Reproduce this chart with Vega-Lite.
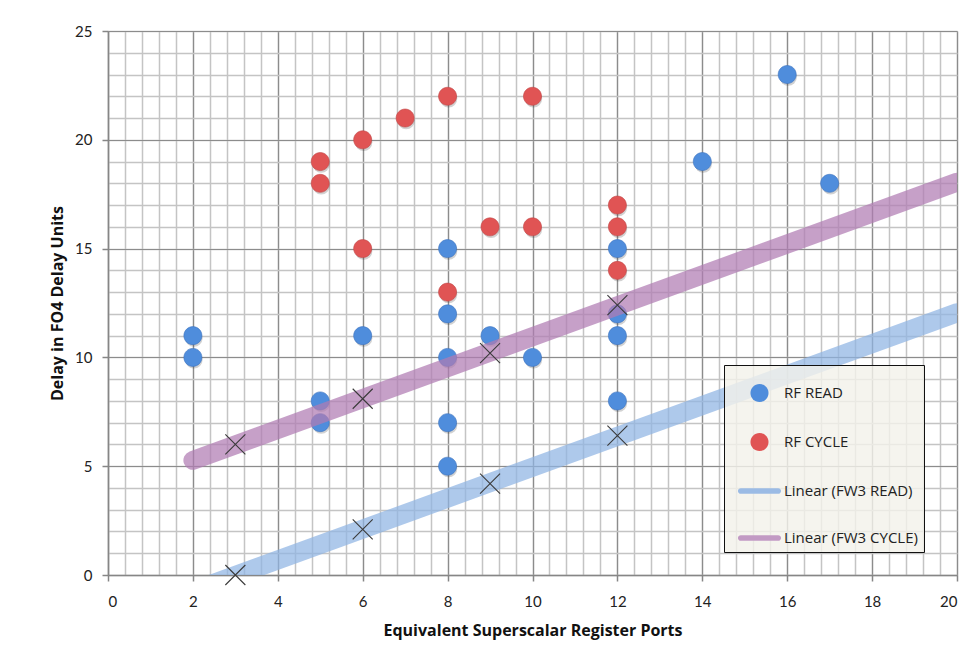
{
  "$schema": "https://vega.github.io/schema/vega-lite/v6.json",
  "width": 849,
  "height": 544,
  "autosize": {"type": "none"},
  "padding": {"left": 108, "top": 31, "right": 15, "bottom": 96},
  "background": "white",
  "config": {
    "view": {"stroke": null},
    "font": "Lato",
    "legend": {"labelFont": "Open Sans"}
  },
  "datasets": {
    "rf": [
      {"ports": 2, "delay": 11, "series": "RF READ"},
      {"ports": 2, "delay": 10, "series": "RF READ"},
      {"ports": 5, "delay": 8, "series": "RF READ"},
      {"ports": 5, "delay": 7, "series": "RF READ"},
      {"ports": 6, "delay": 11, "series": "RF READ"},
      {"ports": 8, "delay": 15, "series": "RF READ"},
      {"ports": 8, "delay": 12, "series": "RF READ"},
      {"ports": 8, "delay": 10, "series": "RF READ"},
      {"ports": 8, "delay": 7, "series": "RF READ"},
      {"ports": 8, "delay": 5, "series": "RF READ"},
      {"ports": 9, "delay": 11, "series": "RF READ"},
      {"ports": 10, "delay": 10, "series": "RF READ"},
      {"ports": 12, "delay": 15, "series": "RF READ"},
      {"ports": 12, "delay": 12, "series": "RF READ"},
      {"ports": 12, "delay": 11, "series": "RF READ"},
      {"ports": 12, "delay": 8, "series": "RF READ"},
      {"ports": 14, "delay": 19, "series": "RF READ"},
      {"ports": 16, "delay": 23, "series": "RF READ"},
      {"ports": 17, "delay": 18, "series": "RF READ"},
      {"ports": 5, "delay": 19, "series": "RF CYCLE"},
      {"ports": 5, "delay": 18, "series": "RF CYCLE"},
      {"ports": 6, "delay": 20, "series": "RF CYCLE"},
      {"ports": 6, "delay": 15, "series": "RF CYCLE"},
      {"ports": 7, "delay": 21, "series": "RF CYCLE"},
      {"ports": 8, "delay": 22, "series": "RF CYCLE"},
      {"ports": 8, "delay": 13, "series": "RF CYCLE"},
      {"ports": 9, "delay": 16, "series": "RF CYCLE"},
      {"ports": 10, "delay": 22, "series": "RF CYCLE"},
      {"ports": 10, "delay": 16, "series": "RF CYCLE"},
      {"ports": 12, "delay": 17, "series": "RF CYCLE"},
      {"ports": 12, "delay": 16, "series": "RF CYCLE"},
      {"ports": 12, "delay": 14, "series": "RF CYCLE"}
    ],
    "fw3": [
      {"ports": 3, "delay": 0, "series": "FW3 READ"},
      {"ports": 6, "delay": 2.1, "series": "FW3 READ"},
      {"ports": 9, "delay": 4.2, "series": "FW3 READ"},
      {"ports": 12, "delay": 6.4, "series": "FW3 READ"},
      {"ports": 3, "delay": 6, "series": "FW3 CYCLE"},
      {"ports": 6, "delay": 8.1, "series": "FW3 CYCLE"},
      {"ports": 9, "delay": 10.2, "series": "FW3 CYCLE"},
      {"ports": 12, "delay": 12.4, "series": "FW3 CYCLE"}
    ],
    "trend": [
      {"ports": 2, "delay": -0.73, "series": "Linear (FW3 READ)"},
      {"ports": 20, "delay": 12.05, "series": "Linear (FW3 READ)"},
      {"ports": 2, "delay": 5.27, "series": "Linear (FW3 CYCLE)"},
      {"ports": 20, "delay": 18.05, "series": "Linear (FW3 CYCLE)"}
    ]
  },
  "resolve": {"axis": {"x": "independent", "y": "independent"}},
  "layer": [
    {
      "description": "outer chart frame and minor grid",
      "mark": {"type": "rect", "fill": null, "stroke": "#9a9a9a", "strokeWidth": 1.5, "clip": false},
      "encoding": {
        "x": {"datum": -2.33, "type": "quantitative",
          "scale": {"domain": [0, 20], "nice": false, "zero": false},
          "axis": {"orient": "bottom", "values": [0,0.4,0.8,1.2,1.6,2,2.4,2.8,3.2,3.6,4,4.4,4.8,5.2,5.6,6,6.4,6.8,7.2,7.6,8,8.4,8.8,9.2,9.6,10,10.4,10.8,11.2,11.6,12,12.4,12.8,13.2,13.6,14,14.4,14.8,15.2,15.6,16,16.4,16.8,17.2,17.6,18,18.4,18.8,19.2,19.6,20],
            "grid": true, "gridColor": "#c4c4c4", "gridWidth": 1.5, "labels": false, "ticks": false, "domain": false, "title": null}},
        "x2": {"datum": 20.8},
        "y": {"datum": 26.24, "type": "quantitative",
          "scale": {"domain": [0, 25], "nice": false, "zero": false},
          "axis": {"orient": "left", "values": [0,1,2,3,4,5,6,7,8,9,10,11,12,13,14,15,16,17,18,19,20,21,22,23,24,25],
            "grid": true, "gridColor": "#c4c4c4", "gridWidth": 1.5, "labels": false, "ticks": false, "domain": false, "title": null}},
        "y2": {"datum": -6}
      }
    },
    {
      "description": "point shadows",
      "data": {"name": "rf"},
      "mark": {"type": "point", "shape": "circle", "filled": true, "size": 300, "opacity": 0.22, "color": "#333333", "clip": true},
      "encoding": {
        "x": {"field": "ports", "type": "quantitative", "axis": null},
        "y": {"field": "delay", "type": "quantitative", "axis": null},
        "xOffset": {"value": 1},
        "yOffset": {"value": 2.5}
      }
    },
    {
      "description": "register file points (symbol path is drawn right of centre, so shifted back by xOffset), major grid, labelled axes and legend",
      "data": {"name": "rf"},
      "mark": {"type": "point", "filled": true, "size": 1936, "opacity": 1, "strokeWidth": 0.6, "clip": true},
      "encoding": {
        "x": {"field": "ports", "type": "quantitative",
          "axis": {"orient": "bottom", "values": [0,2,4,6,8,10,12,14,16,18,20], "format": "d",
            "grid": true, "gridColor": "#8c8c8c", "gridWidth": 1.2,
            "domainColor": "#868686", "domainWidth": 1.5, "tickColor": "#868686", "tickSize": 6, "tickWidth": 1.5,
            "labelFont": "Lato", "labelFontSize": 15, "labelColor": "#222222", "labelPadding": 13,
            "title": "Equivalent  Superscalar  Register  Ports", "titleFont": "Open Sans", "titleFontSize": 16, "titleFontWeight": "bold", "titleColor": "#111111", "titlePadding": 13}},
        "y": {"field": "delay", "type": "quantitative",
          "axis": {"orient": "left", "values": [0,5,10,15,20,25], "format": "d",
            "grid": true, "gridColor": "#8c8c8c", "gridWidth": 1.2,
            "domainColor": "#868686", "domainWidth": 1.5, "tickColor": "#868686", "tickSize": 6, "tickWidth": 1.5,
            "labelFont": "Lato", "labelFontSize": 15, "labelColor": "#222222", "labelPadding": 10,
            "title": "Delay in FO4 Delay Units", "titleFont": "Open Sans", "titleFontSize": 16, "titleFontWeight": "bold", "titleColor": "#111111", "titlePadding": 9}},
        "xOffset": {"value": -7.5},
        "color": {"field": "series", "type": "nominal",
          "scale": {"domain": ["RF READ", "RF CYCLE", "Linear (FW3 READ)", "Linear (FW3 CYCLE)"],
                    "range": ["#4f8ddc", "#e05454", "#9bbbe5", "#c29ac4"]},
          "legend": {
            "title": null, "orient": "none", "legendX": 616, "legendY": 334,
            "fillColor": "rgba(243,241,234,0.82)", "strokeColor": "#111111",
            "padding": 6, "rowPadding": 17, "labelOffset": 10,
            "symbolSize": 1936, "symbolStrokeWidth": 0,
            "labelFont": "Open Sans", "labelFontSize": 15, "labelColor": "#222222", "labelLimit": 300
          }},
        "shape": {"field": "series", "type": "nominal",
          "scale": {"domain": ["RF READ", "RF CYCLE", "Linear (FW3 READ)", "Linear (FW3 CYCLE)"],
                    "range": [
                      "M-0.07,0A0.41,0.41 0 1,1 0.75,0A0.41,0.41 0 1,1 -0.07,0Z",
                      "M-0.07,0A0.41,0.41 0 1,1 0.75,0A0.41,0.41 0 1,1 -0.07,0Z",
                      "M-0.51,-0.13L1.19,-0.13A0.13,0.13 0 0,1 1.19,0.13L-0.51,0.13A0.13,0.13 0 0,1 -0.51,-0.13Z",
                      "M-0.51,-0.13L1.19,-0.13A0.13,0.13 0 0,1 1.19,0.13L-0.51,0.13A0.13,0.13 0 0,1 -0.51,-0.13Z"
                    ]}},
        "stroke": {"field": "series", "type": "nominal", "legend": null,
          "scale": {"domain": ["RF READ", "RF CYCLE", "Linear (FW3 READ)", "Linear (FW3 CYCLE)"],
                    "range": ["#3c72bd", "#c04444", "#8fb4e3", "#b07bb3"]}}
      }
    },
    {
      "description": "linear trendlines of the FW3 series",
      "data": {"name": "trend"},
      "mark": {"type": "line", "strokeWidth": 19, "strokeCap": "round", "opacity": 0.72, "clip": true},
      "encoding": {
        "x": {"field": "ports", "type": "quantitative", "axis": null},
        "y": {"field": "delay", "type": "quantitative", "axis": null},
        "stroke": {"field": "series", "type": "nominal", "legend": null}
      }
    },
    {
      "description": "FW3 cross markers",
      "data": {"name": "fw3"},
      "mark": {"type": "point", "shape": "M-1,-1L1,1M1,-1L-1,1", "filled": false, "size": 400, "strokeWidth": 1.1, "color": "#3a3a3a", "opacity": 1, "clip": false},
      "encoding": {
        "x": {"field": "ports", "type": "quantitative", "axis": null},
        "y": {"field": "delay", "type": "quantitative", "axis": null}
      }
    }
  ]
}
